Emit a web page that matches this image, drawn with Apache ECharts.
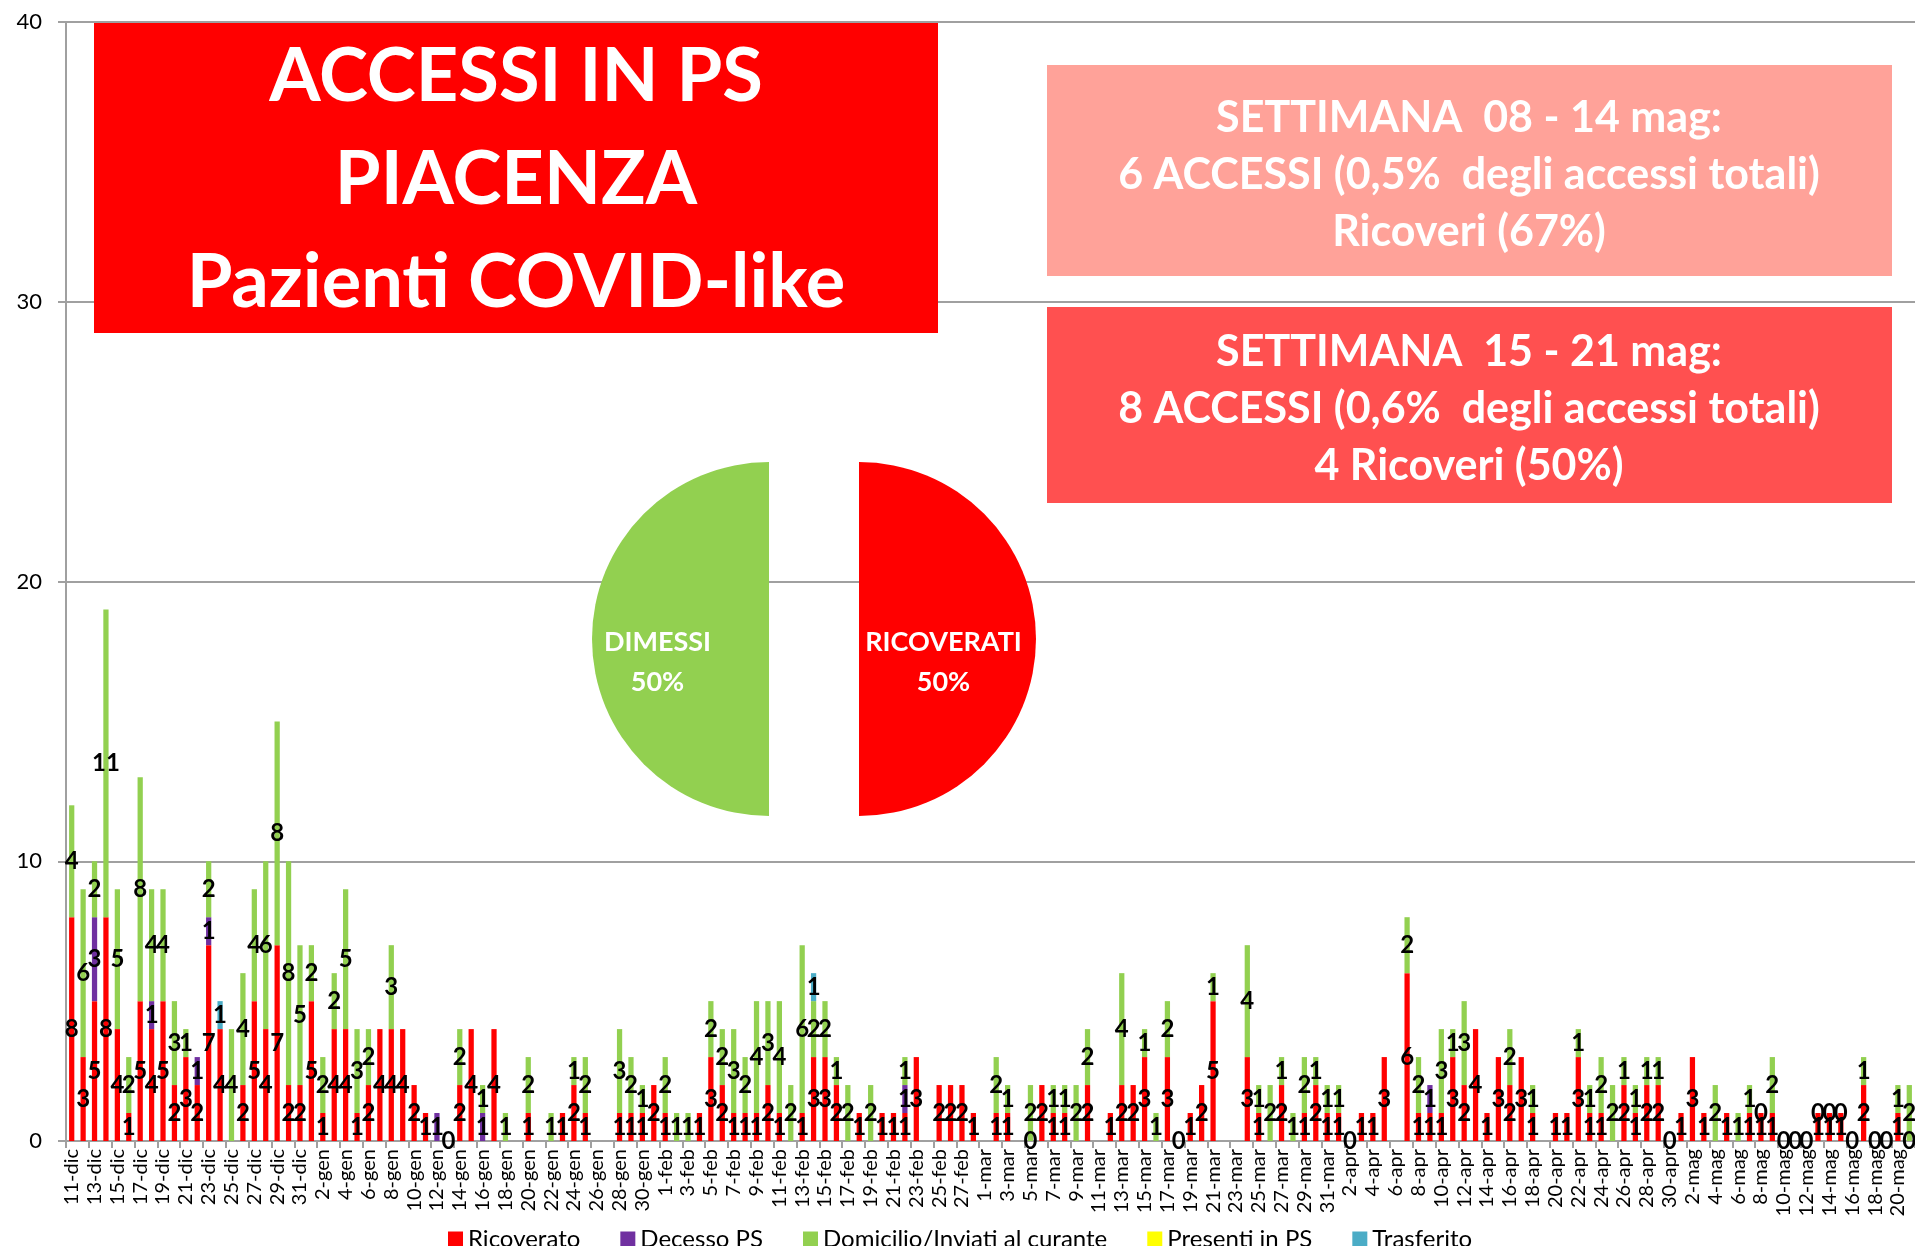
<!DOCTYPE html>
<html><head><meta charset="utf-8">
<script src="https://cdn.jsdelivr.net/npm/echarts@6/dist/echarts.min.js"></script>
<style>html,body{margin:0;padding:0;background:#fff}#c{width:1915px;height:1246px}</style>
</head><body><div id="c"></div>
<script>
const N = null;
const categories = [
'11-dic','12-dic','13-dic','14-dic','15-dic','16-dic','17-dic','18-dic','19-dic','20-dic','21-dic','22-dic','23-dic','24-dic','25-dic','26-dic','27-dic','28-dic','29-dic','30-dic','31-dic',
'1-gen','2-gen','3-gen','4-gen','5-gen','6-gen','7-gen','8-gen','9-gen','10-gen','11-gen','12-gen','13-gen','14-gen','15-gen','16-gen','17-gen','18-gen','19-gen','20-gen','21-gen','22-gen','23-gen','24-gen','25-gen','26-gen','27-gen','28-gen','29-gen','30-gen','31-gen',
'1-feb','2-feb','3-feb','4-feb','5-feb','6-feb','7-feb','8-feb','9-feb','10-feb','11-feb','12-feb','13-feb','14-feb','15-feb','16-feb','17-feb','18-feb','19-feb','20-feb','21-feb','22-feb','23-feb','24-feb','25-feb','26-feb','27-feb','28-feb',
'1-mar','2-mar','3-mar','4-mar','5-mar','6-mar','7-mar','8-mar','9-mar','10-mar','11-mar','12-mar','13-mar','14-mar','15-mar','16-mar','17-mar','18-mar','19-mar','20-mar','21-mar','22-mar','23-mar','24-mar','25-mar','26-mar','27-mar','28-mar','29-mar','30-mar','31-mar',
'1-apr','2-apr','3-apr','4-apr','5-apr','6-apr','7-apr','8-apr','9-apr','10-apr','11-apr','12-apr','13-apr','14-apr','15-apr','16-apr','17-apr','18-apr','19-apr','20-apr','21-apr','22-apr','23-apr','24-apr','25-apr','26-apr','27-apr','28-apr','29-apr','30-apr',
'1-mag','2-mag','3-mag','4-mag','5-mag','6-mag','7-mag','8-mag','9-mag','10-mag','11-mag','12-mag','13-mag','14-mag','15-mag','16-mag','17-mag','18-mag','19-mag','20-mag','21-mag'
];
const ricoverato = [
8,3,5,8,4,1,5,4,5,2,3,2,7,4,N,2,5,4,7,2,2,
5,1,4,4,1,2,4,4,4,2, 1,N,0,2,4,N,4,N,N,1, N,N,1,2,1,N,N,1,1,1, 2,
1,N,N,1,3,2,1,1,1,2, 1,N,1,3,3,2,N,1,N,1, 1,1,3,N,2,2,2,1,
N,1,1,N,0,2,1,1,N,2, N,1,2,2,3,N,3,0,1,2, 5,N,N,3,1,N,2,N,1,2, 1,
1,0,1,1,3,N,6,1,1,1, 3,2,4,1,3,2,3,1,N,1, 1,3,1,1,N,2,1,2,2,0,
1,3,1,N,1,N,1,1,1,0, 0,0,1,1,1,0,2,0,0,1, 0
];
const decessoPS = [
N,N,3,N,N,N,N,1,N,N,N,1,1,N,N,N,N,N,N,N,N,
N,N,N,N,N,N,N,N,N,N, N,1,N,N,N,1,N,N,N,N, N,N,N,N,N,N,N,N,N,N, N,
N,N,N,N,N,N,N,N,N,N, N,N,N,N,N,N,N,N,N,N, N,1,N,N,N,N,N,N,
N,N,N,N,N,N,N,N,N,N, N,N,N,N,N,N,N,N,N,N, N,N,N,N,N,N,N,N,N,N, N,
N,N,N,N,N,N,N,N,1,N, N,N,N,N,N,N,N,N,N,N, N,N,N,N,N,N,N,N,N,N,
N,N,N,N,N,N,N,N,N,N, N,N,N,N,N,N,N,N,N,N, N
];
const domicilio = [
4,6,2,11,5,2,8,4,4,3,1,N,2,N,4,4,4,6,8,8,5,
2,2,2,5,3,2,N,3,N,N, N,N,N,2,N,1,N,1,N,2, N,1,N,1,2,N,N,3,2,1, N,
2,1,1,N,2,2,3,2,4,3, 4,2,6,2,2,1,2,N,2,N, N,1,N,N,N,N,N,N,
N,2,1,N,2,N,1,1,2,2, N,N,4,N,1,1,2,N,N,N, 1,N,N,4,1,2,1,1,2,1, 1,
1,N,N,N,N,N,2,2,N,3, 1,3,N,N,N,2,N,1,N,N, N,1,1,2,2,1,1,1,1,N,
N,N,N,2,N,1,1,0,2,N, N,N,0,0,0,N,1,N,N,1, 2
];
const presentiInPS = [];
const trasferito = [
N,N,N,N,N,N,N,N,N,N,N,N,N,1,N,N,N,N,N,N,N,
N,N,N,N,N,N,N,N,N,N, N,N,N,N,N,N,N,N,N,N, N,N,N,N,N,N,N,N,N,N, N,
N,N,N,N,N,N,N,N,N,N, N,N,N,1
];
const seriesNames = ['Ricoverato','Decesso PS','Domicilio/Inviati al curante','Presenti in PS','Trasferito'];
const seriesColors = ['#FF0000','#7030A0','#92D050','#FFFF00','#4BACC6'];
const pieNames = ['RICOVERATI','DIMESSI'];
const pieValues = [50, 50];
const pieColors = ['#FF0000','#92D050'];

const FONT = 'Lato, "Open Sans", sans-serif';
const chart = echarts.init(document.getElementById('c'), null, {renderer:'canvas'});
const seriesData = [ricoverato, decessoPS, domicilio, presentiInPS, trasferito];
const barSeries = seriesNames.map((name, i) => ({
  name, type:'bar', stack:'tot', data: seriesData[i], barWidth:'46%',
  itemStyle:{color: seriesColors[i]},
  label:{show:true, position:'inside', color:'#000', fontWeight:'bold', fontSize:24, fontFamily:FONT,
    textBorderWidth:0, formatter: p => (p.value == null ? '' : String(p.value))},
  emphasis:{disabled:true}, animation:false
}));
const pieSeries = {
  type:'pie', center:[814, 639], radius:177, startAngle:90, clockwise:true,
  selectedMode:'multiple', selectedOffset:45, animation:false,
  data: pieNames.map((n,i)=>({name:n, value:pieValues[i], selected:true, itemStyle:{color:pieColors[i]}})),
  label:{show:true, position:'inside', formatter:'{b}\n{d}%', color:'#fff', fontWeight:'bold', fontSize:27,
    fontFamily:FONT, lineHeight:40, textBorderWidth:0},
  labelLine:{show:false},
  labelLayout: p => ({dy: 23, dx: p.dataIndex === 1 ? -20 : -7}),
  emphasis:{disabled:true}
};
chart.setOption({
  backgroundColor:'#fff',
  animation:false,
  grid:{left:66, right:0, top:22, bottom:105, containLabel:false},
  legend:{data:seriesNames, left:443, top:1222, icon:'rect', itemWidth:15, itemHeight:15, itemGap:40,
    selectedMode:false, textStyle:{fontFamily:FONT, fontSize:24, color:'#000'}},
  xAxis:{type:'category', data:categories, boundaryGap:true,
    axisLine:{lineStyle:{color:'#a0a0a0', width:2}},
    axisTick:{show:true, interval:1, length:7, lineStyle:{color:'#a0a0a0', width:2}},
    axisLabel:{interval:1, rotate:90, margin:8, fontFamily:FONT, fontSize:20, color:'#000'}},
  yAxis:{type:'value', min:0, max:40, interval:10,
    axisLine:{show:true, lineStyle:{color:'#a0a0a0', width:2}},
    axisTick:{show:true, length:8, lineStyle:{color:'#a0a0a0', width:2}},
    splitLine:{lineStyle:{color:'#a0a0a0', width:2}},
    axisLabel:{margin:24, fontFamily:FONT, fontSize:22, color:'#000'}},
  series: barSeries.concat([pieSeries]),
  graphic:[
    {type:'rect', z:100, shape:{x:94, y:23, width:844, height:310}, style:{fill:'#FF0000'}},
    {type:'text', z:101, x:516, y:180, style:{text:'ACCESSI IN PS\nPIACENZA\nPazienti COVID-like', fill:'#fff',
      fontFamily:FONT, fontWeight:'bold', fontSize:74, lineHeight:103, align:'center', verticalAlign:'middle'}},
    {type:'rect', z:100, shape:{x:1047, y:65, width:845, height:211}, style:{fill:'#FFA299'}},
    {type:'text', z:101, x:1469, y:175, style:{text:'SETTIMANA  08 - 14 mag:\n6 ACCESSI (0,5%  degli accessi totali)\nRicoveri (67%)', fill:'#fff',
      fontFamily:FONT, fontWeight:'bold', fontSize:43, lineHeight:57, align:'center', verticalAlign:'middle'}},
    {type:'rect', z:100, shape:{x:1047, y:307, width:845, height:196}, style:{fill:'#FF5050'}},
    {type:'text', z:101, x:1469, y:409, style:{text:'SETTIMANA  15 - 21 mag:\n8 ACCESSI (0,6%  degli accessi totali)\n4 Ricoveri (50%)', fill:'#fff',
      fontFamily:FONT, fontWeight:'bold', fontSize:43, lineHeight:57, align:'center', verticalAlign:'middle'}}
  ]
});
</script></body></html>
